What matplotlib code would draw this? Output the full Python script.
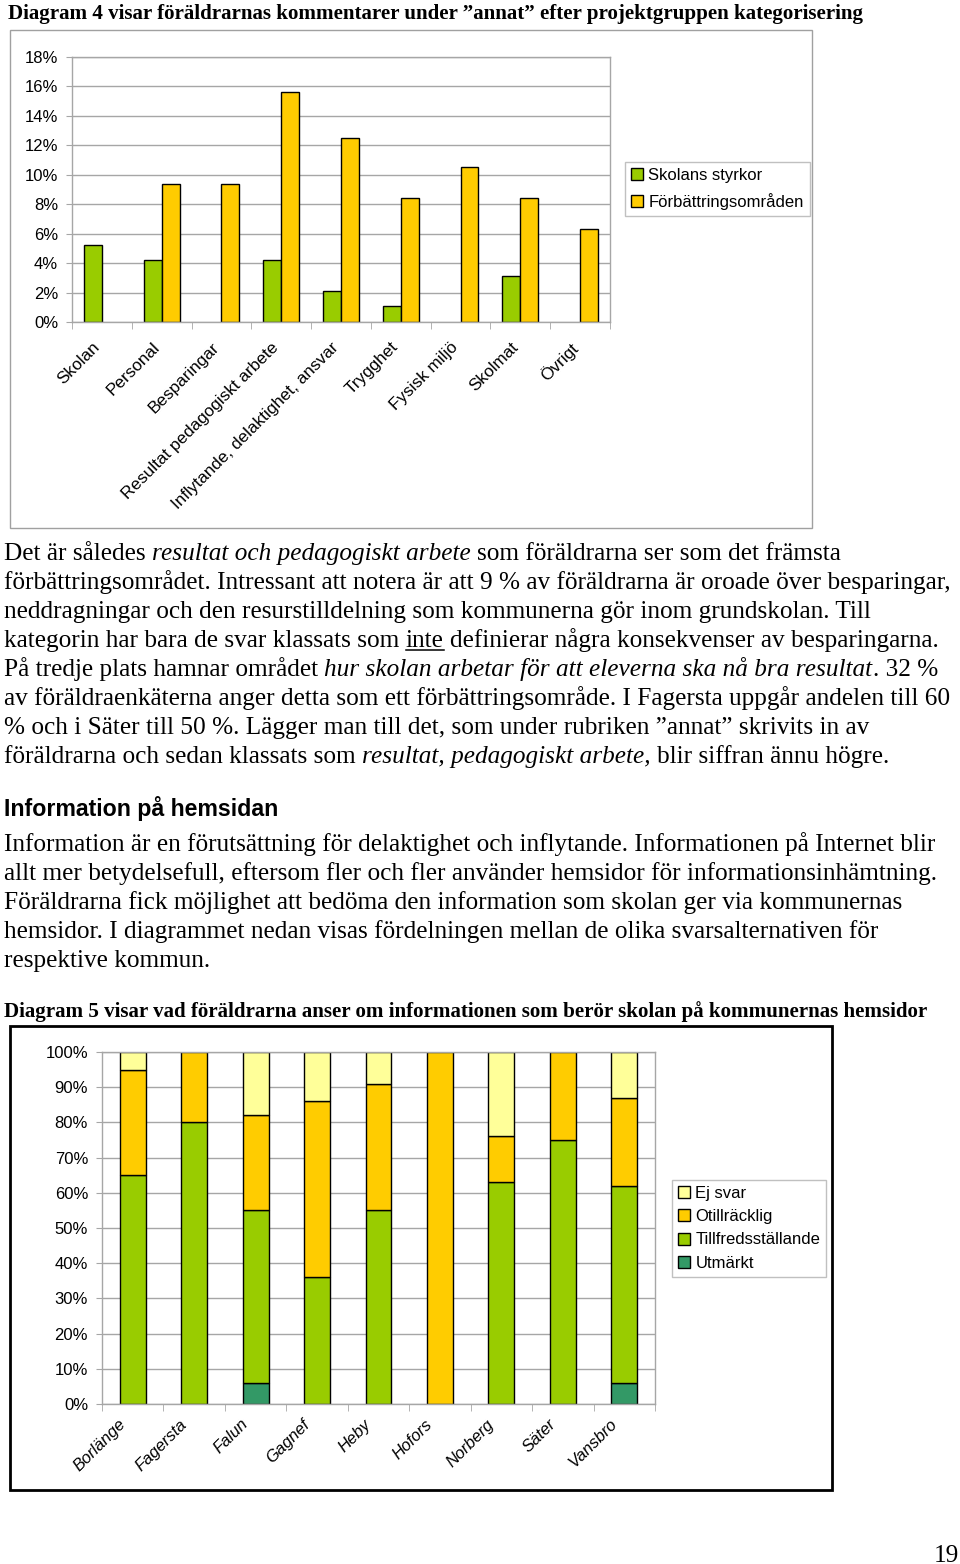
import matplotlib
matplotlib.use("Agg")
import matplotlib.pyplot as plt
from matplotlib.patches import Rectangle
from matplotlib.lines import Line2D
from matplotlib.ticker import FuncFormatter
from matplotlib.transforms import ScaledTranslation
import numpy as np

W, H = 960, 1564
SERIF = "Liberation Serif"
SANS = "Liberation Sans"

# Diagram 4
kategorier = ["Skolan", "Personal", "Besparingar", "Resultat pedagogiskt arbete",
              "Inflytande, delaktighet, ansvar", "Trygghet", "Fysisk miljö",
              "Skolmat", "Övrigt"]
styrkor = [5.2, 4.2, 0, 4.2, 2.1, 1.1, 0, 3.1, 0]
forbattring = [0, 9.4, 9.4, 15.6, 12.5, 8.4, 10.5, 8.4, 6.3]

# Diagram 5
kommuner = ["Borlänge", "Fagersta", "Falun", "Gagnef", "Heby", "Hofors",
            "Norberg", "Säter", "Vansbro"]
utmarkt = [0, 0, 6, 0, 0, 0, 0, 0, 6]
tillfreds = [65, 80, 49, 36, 55, 0, 63, 75, 56]
otillracklig = [30, 20, 27, 50, 36, 100, 13, 25, 25]
ej_svar = [5, 0, 18, 14, 9, 0, 24, 0, 13]

GREEN = "#99cc00"
YELLOW = "#ffcc00"
LIGHT = "#ffff99"
DARK = "#339966"
GRID = "#a6a6a6"

title1 = "Diagram 4 visar föräldrarnas kommentarer under ”annat” efter projektgruppen kategorisering"
title2 = "Diagram 5 visar vad föräldrarna anser om informationen som berör skolan på kommunernas hemsidor"
heading = "Information på hemsidan"

para1 = [
    [("Det är således", "n"), ("resultat och pedagogiskt arbete", "i"),
     ("som föräldrarna ser som det främsta", "n")],
    [("förbättringsområdet. Intressant att notera är att 9 % av föräldrarna är oroade över besparingar,", "n")],
    [("neddragningar och den resurstilldelning som kommunerna gör inom grundskolan. Till", "n")],
    [("kategorin har bara de svar klassats som", "n"), ("inte", "u"),
     ("definierar några konsekvenser av besparingarna.", "n")],
    [("På tredje plats hamnar området", "n"),
     ("hur skolan arbetar för att eleverna ska nå bra resultat", "i"), (". 32 %", "n")],
    [("av föräldraenkäterna anger detta som ett förbättringsområde. I Fagersta uppgår andelen till 60", "n")],
    [("% och i Säter till 50 %. Lägger man till det, som under rubriken ”annat” skrivits in av", "n")],
    [("föräldrarna och sedan klassats som", "n"), ("resultat, pedagogiskt arbete,", "i"),
     ("blir siffran ännu högre.", "n")],
]
para2 = [
    "Information är en förutsättning för delaktighet och inflytande. Informationen på Internet blir",
    "allt mer betydelsefull, eftersom fler och fler använder hemsidor för informationsinhämtning.",
    "Föräldrarna fick möjlighet att bedöma den information som skolan ger via kommunernas",
    "hemsidor. I diagrammet nedan visas fördelningen mellan de olika svarsalternativen för",
    "respektive kommun.",
]


def fx(x):
    return x / W


def fy(y):
    return 1 - y / H


fig = plt.figure(figsize=(W / 100, H / 100), dpi=100)
renderer = fig.canvas.get_renderer()


def text_width(s, **kw):
    t = fig.text(0, 0, s, **kw)
    w = t.get_window_extent(renderer).width
    t.remove()
    return w


def fit_size(s, target, **kw):
    return 10 * target / text_width(s, fontsize=10, **kw)


def draw_line(x0, y, segs, size):
    space = (text_width("n n", fontsize=size, family=SERIF)
             - text_width("nn", fontsize=size, family=SERIF))
    x = x0
    for i, (s, st) in enumerate(segs):
        if i > 0 and not s.startswith((".", ",")):
            x += space
        t = fig.text(fx(x), fy(y), s, fontsize=size, family=SERIF,
                     style="italic" if st == "i" else "normal",
                     ha="left", va="baseline")
        bb = t.get_window_extent(renderer)
        if st == "u":
            fig.add_artist(Line2D([bb.x0 / W, bb.x1 / W], [fy(y + 3)] * 2,
                                  color="black", lw=1.1))
        x = bb.x1


body = fit_size(para1[1][0][0], 949, family=SERIF)

# page texts
fig.text(fx(8), fy(19), title1, family=SERIF, weight="bold", ha="left", va="baseline",
         fontsize=fit_size(title1, 862, family=SERIF, weight="bold"))
for i, segs in enumerate(para1):
    draw_line(4, 560 + 29 * i, segs, body)
fig.text(fx(4), fy(816), heading, family=SANS, weight="bold", ha="left", va="baseline",
         fontsize=fit_size(heading, 275, family=SANS, weight="bold"))
for i, s in enumerate(para2):
    draw_line(4, 851 + 29 * i, [(s, "n")], body)
fig.text(fx(4), fy(1017), title2, family=SERIF, weight="bold", ha="left", va="baseline",
         fontsize=fit_size(title2, 929, family=SERIF, weight="bold"))
fig.text(fx(959), fy(1562), "19", family=SERIF, fontsize=body, ha="right", va="baseline")

# chart frames
fig.add_artist(Rectangle((fx(10), fy(528)), fx(812) - fx(10), fy(30) - fy(528),
                         transform=fig.transFigure, fill=False, edgecolor="#a0a0a0", lw=1))
fig.add_artist(Rectangle((fx(10), fy(1490)), fx(832) - fx(10), fy(1026) - fy(1490),
                         transform=fig.transFigure, fill=False, edgecolor="black", lw=2))

TICK = 12
pct = FuncFormatter(lambda v, p: f"{v:.0f}%")


def style_axes(ax, n):
    for sp in ax.spines.values():
        sp.set_color(GRID)
        sp.set_linewidth(1)
    ax.set_xlim(-0.5, n - 0.5)
    ax.set_axisbelow(True)
    ax.yaxis.grid(True, color=GRID, lw=1)
    ax.set_xticks(np.arange(n))
    ax.set_xticks(np.arange(n + 1) - 0.5, minor=True)
    ax.tick_params(axis="x", which="major", length=0, pad=9)
    ax.tick_params(axis="x", which="minor", length=5, color=GRID)
    ax.tick_params(axis="y", length=4, color=GRID, labelsize=TICK, pad=6)
    ax.yaxis.set_major_formatter(pct)
    for lab in ax.get_yticklabels():
        lab.set_family(SANS)


def shift_labels(ax, dx, dy):
    off = ScaledTranslation(dx / 100, dy / 100, fig.dpi_scale_trans)
    for lab in ax.get_xticklabels():
        lab.set_transform(lab.get_transform() + off)


# Diagram 4
ax1 = fig.add_axes([fx(72), fy(322), fx(610) - fx(72), fy(57) - fy(322)])
x = np.arange(len(kategorier))
bw = 0.3
s_idx = [i for i, v in enumerate(styrkor) if v > 0]
f_idx = [i for i, v in enumerate(forbattring) if v > 0]
ax1.bar(x[s_idx] - bw / 2, np.array(styrkor)[s_idx], bw, color=GREEN, edgecolor="black", lw=1)
ax1.bar(x[f_idx] + bw / 2, np.array(forbattring)[f_idx], bw, color=YELLOW, edgecolor="black", lw=1)
ax1.set_ylim(0, 18)
ax1.set_yticks(np.arange(0, 19, 2))
style_axes(ax1, len(kategorier))
ax1.set_xticklabels(kategorier, rotation=45, ha="right", va="top",
                    rotation_mode="anchor", family=SANS, fontsize=12.3)
shift_labels(ax1, -10, -5)
h1 = [Rectangle((0, 0), 1, 1, facecolor=c, edgecolor="black", lw=1) for c in (GREEN, YELLOW)]
ax1.legend(h1, ["Skolans styrkor", "Förbättringsområden"], loc="upper left",
           bbox_to_anchor=(fx(625), fy(162)), bbox_transform=fig.transFigure,
           fancybox=False, edgecolor="#c0c0c0", framealpha=1, borderpad=0.35,
           handlelength=0.7, handleheight=0.7, handletextpad=0.35, labelspacing=0.6,
           borderaxespad=0, prop={"family": SANS, "size": 12})

# Diagram 5
ax2 = fig.add_axes([fx(102), fy(1404), fx(655) - fx(102), fy(1052) - fy(1404)])
x2 = np.arange(len(kommuner))
bw2 = 0.42
bottom = np.zeros(len(kommuner))
for vals, col in ((utmarkt, DARK), (tillfreds, GREEN), (otillracklig, YELLOW), (ej_svar, LIGHT)):
    vals = np.array(vals, dtype=float)
    idx = vals > 0
    ax2.bar(x2[idx], vals[idx], bw2, bottom=bottom[idx], color=col, edgecolor="black", lw=1)
    bottom += vals
ax2.set_ylim(0, 100)
ax2.set_yticks(np.arange(0, 101, 10))
style_axes(ax2, len(kommuner))
ax2.set_xticklabels(kommuner, rotation=45, ha="right", va="top", style="italic",
                    rotation_mode="anchor", family=SANS, fontsize=12)
shift_labels(ax2, -15, 0)
h2 = [Rectangle((0, 0), 1, 1, facecolor=c, edgecolor="black", lw=1)
      for c in (LIGHT, YELLOW, GREEN, DARK)]
ax2.legend(h2, ["Ej svar", "Otillräcklig", "Tillfredsställande", "Utmärkt"], loc="upper left",
           bbox_to_anchor=(fx(672), fy(1180)), bbox_transform=fig.transFigure,
           fancybox=False, edgecolor="#c0c0c0", framealpha=1, borderpad=0.35,
           handlelength=0.7, handleheight=0.7, handletextpad=0.35, labelspacing=0.5,
           borderaxespad=0, prop={"family": SANS, "size": 12})

fig.savefig("out.png", dpi=100)
